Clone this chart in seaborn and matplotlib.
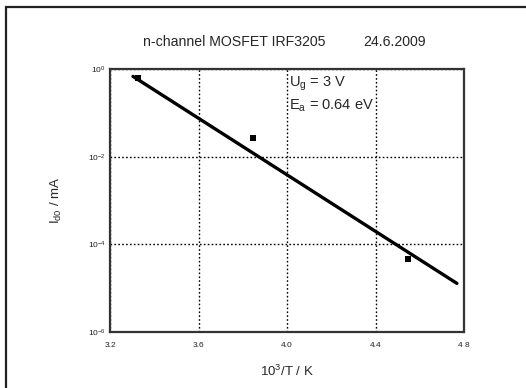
import numpy as np
import pandas as pd
import matplotlib
matplotlib.use("Agg")
import matplotlib.pyplot as plt
from matplotlib.patches import Rectangle
from matplotlib.ticker import FixedLocator, NullLocator, FixedFormatter
import seaborn as sns

# Measured drain current at Ug = 3 V versus inverse temperature
inv_temp = [3.327, 3.846, 4.547]          # 10^3/T in 1/K
current = [0.62, 0.027, 4.6e-5]           # I_d0 in mA

# Arrhenius fit
activation_energy = 0.64                  # eV
fit_x = [3.304, 4.768]                    # 10^3/T range of fit line
fit_anchor_x = 4.036
fit_anchor_logI = -2.53

x_ticks = [3.2, 3.6, 4.0, 4.4, 4.8]
x_tick_labels = ["3.2", "3.6", "4.0", "4.4", "4 8"]
y_ticks = [1e-6, 1e-4, 1e-2, 1e0]
y_tick_labels = [r"$10^{-6}$", r"$10^{-4}$", r"$10^{-2}$", r"$10^{0}$"]

sns.set_theme(style="white")
plt.rcParams["font.family"] = ["Liberation Sans", "DejaVu Sans"]
plt.rcParams["mathtext.fontset"] = "custom"
plt.rcParams["mathtext.rm"] = "Liberation Sans"
plt.rcParams["mathtext.it"] = "Liberation Sans"

kB = 8.617e-5
slope = activation_energy / (kB * 1000 * np.log(10))
fit_y = [10 ** (fit_anchor_logI - slope * (x - fit_anchor_x)) for x in fit_x]

fig = plt.figure(figsize=(5.26, 3.88), dpi=100)
fig.patch.set_facecolor("white")
ax = fig.add_axes([110 / 526, 1 - 332 / 388, 354 / 526, 263 / 388])

# outer frame around the plot
fig.add_artist(Rectangle((5.5 / 526, -0.1), 1.2, 1 - 7 / 388 + 0.1,
                         transform=fig.transFigure, fill=False,
                         edgecolor="#222222", linewidth=1.6))

fit_df = pd.DataFrame({"x": fit_x, "y": fit_y})
pts_df = pd.DataFrame({"x": inv_temp, "y": current})

ax.set_yscale("log")
sns.lineplot(data=fit_df, x="x", y="y", ax=ax, color="black", linewidth=2.4)
sns.scatterplot(data=pts_df, x="x", y="y", ax=ax, color="black", marker="s",
                s=22, linewidth=0, zorder=5)

ax.set_xlim(3.2, 4.8)
ax.set_ylim(1e-6, 1)
ax.xaxis.set_major_locator(FixedLocator(x_ticks))
ax.xaxis.set_major_formatter(FixedFormatter(x_tick_labels))
ax.yaxis.set_major_locator(FixedLocator(y_ticks))
ax.yaxis.set_major_formatter(FixedFormatter(y_tick_labels))
ax.yaxis.set_minor_locator(NullLocator())
ax.tick_params(axis="both", length=0, labelsize=6, colors="#222222")
ax.tick_params(axis="x", pad=7)
ax.tick_params(axis="y", pad=3)

ax.grid(True, which="major", color="black", linestyle=(0, (1.2, 1.6)), linewidth=1.0)
for spine in ax.spines.values():
    spine.set_color("#333333")
    spine.set_linewidth(1.6)

ax.set_xlabel(r"10$^3$/T / K", fontsize=9.5, labelpad=11)
ax.set_ylabel(r"I$_{d0}$ / mA", fontsize=9.5, labelpad=17)

fig.text(143 / 526, 1 - 42 / 388, "n-channel MOSFET IRF3205",
         ha="left", va="center", fontsize=10.2)
fig.text(363 / 526, 1 - 42 / 388, "24.6.2009",
         ha="left", va="center", fontsize=10.2)

ax.text(4.01, 10 ** -0.33, r"U$_{g}$ = 3 V", fontsize=10.5, ha="left", va="center")
ax.text(4.01, 10 ** -0.84, r"E$_{a}$ = 0.64 eV", fontsize=10.5, ha="left", va="center")

fig.savefig("out.png", dpi=100, facecolor="white")
